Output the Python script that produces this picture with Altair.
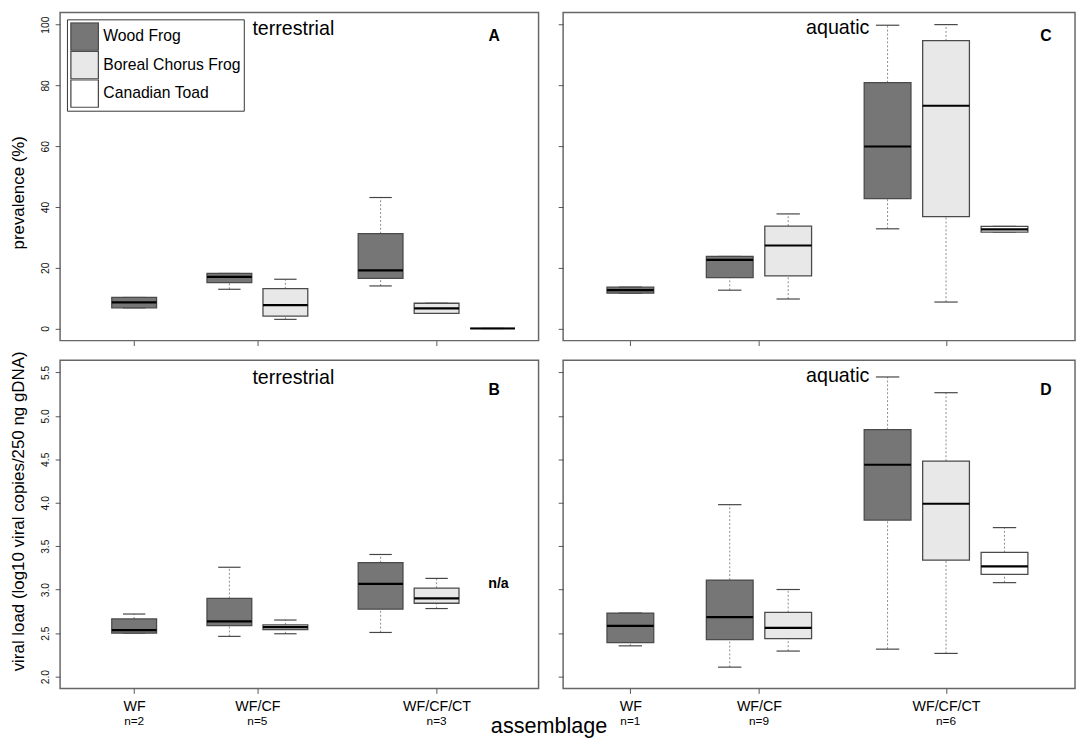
import altair as alt
import pandas as pd

# ---------------- data ----------------
species = ["Wood Frog", "Boreal Chorus Frog", "Canadian Toad"]
assemblages = ["WF", "WF/CF", "WF/CF/CT"]
n_terrestrial = [2, 5, 3]
n_aquatic = [1, 9, 6]

# boxes: assemblage index / species index
boxes6_assemblage = [0, 1, 1, 2, 2, 2]
boxes6_species = [0, 0, 1, 0, 1, 2]
boxes5_assemblage = [0, 1, 1, 2, 2]
boxes5_species = [0, 0, 1, 0, 1]

# A: terrestrial prevalence (%)
a_low = [6.8, 12.9, 3.0, 14.0, 5.0, 0.0]
a_q1 = [6.8, 15.1, 4.1, 16.5, 5.0, 0.0]
a_med = [8.6, 17.0, 7.7, 19.1, 6.6, 0.0]
a_q3 = [10.2, 18.1, 13.1, 31.2, 8.3, 0.0]
a_high = [10.2, 18.1, 16.2, 43.1, 8.3, 0.0]

# C: aquatic prevalence (%)
c_low = [11.6, 12.6, 9.7, 32.8, 8.7, 31.7]
c_q1 = [11.6, 16.7, 17.3, 42.7, 36.8, 31.7]
c_med = [12.6, 22.6, 27.3, 59.9, 73.3, 32.6]
c_q3 = [13.6, 23.7, 33.7, 80.9, 94.7, 33.6]
c_high = [13.6, 23.7, 37.7, 99.8, 100.0, 33.6]

# B: terrestrial viral load (no Canadian Toad data)
b_low = [2.50, 2.463, 2.493, 2.508, 2.783]
b_q1 = [2.50, 2.587, 2.542, 2.776, 2.844]
b_med = [2.535, 2.636, 2.569, 3.066, 2.90]
b_q3 = [2.663, 2.90, 2.595, 3.311, 3.017]
b_high = [2.72, 3.258, 2.651, 3.405, 3.13]

# D: aquatic viral load
d_low = [2.354, 2.109, 2.294, 2.316, 2.267, 3.081]
d_q1 = [2.392, 2.425, 2.437, 3.801, 3.341, 3.175]
d_med = [2.584, 2.685, 2.561, 4.437, 3.989, 3.269]
d_q3 = [2.731, 3.111, 2.738, 4.841, 4.479, 3.428]
d_high = [2.731, 3.978, 3.002, 5.447, 5.266, 3.714]

prev_ticks = [0, 20, 40, 60, 80, 100]
load_ticks = [2.0, 2.5, 3.0, 3.5, 4.0, 4.5, 5.0, 5.5]
na_load = 3.06

# ---------------- layout / style ----------------
fill_colors = ["#767676", "#e8e8e8", "#ffffff"]
FONT = "Liberation Sans"
GROUP_BASE = [1.0, 2.7, 5.4]
BOX_HALF = 0.4
CAP_HALF = 0.2
H = 334
W_LEFT = 487
W_RIGHT = 521
XDOM_LEFT = [-0.323, -0.323 + W_LEFT / 57.0]
XDOM_RIGHT = [-0.15, -0.15 + W_RIGHT / 59.5]
YDOM_PREV = [-4, 104]
YDOM_LOAD = [1.864, 5.639]

group_sizes = [boxes6_assemblage.count(g) for g in range(len(assemblages))]
tick_pos = [GROUP_BASE[g] + (group_sizes[g] - 1) / 2 for g in range(len(assemblages))]
mid1 = (tick_pos[0] + tick_pos[1]) / 2
mid2 = (tick_pos[1] + tick_pos[2]) / 2
label_expr = (f"datum.value < {mid1} ? '{assemblages[0]}' : "
              f"datum.value < {mid2} ? '{assemblages[1]}' : '{assemblages[2]}'")


def box_frame(a_idx, s_idx, low, q1, med, q3, high):
    pos = [GROUP_BASE[a] + s for a, s in zip(a_idx, s_idx)]
    return pd.DataFrame({
        "pos": pos,
        "box_l": [p - BOX_HALF for p in pos],
        "box_r": [p + BOX_HALF for p in pos],
        "cap_l": [p - CAP_HALF for p in pos],
        "cap_r": [p + CAP_HALF for p in pos],
        "species": [species[s] for s in s_idx],
        "low": low, "q1": q1, "med": med, "q3": q3, "high": high,
    })


def panel(df, width, xdom, ydom, yticks, yfmt, ylabels, ytitle, ytitle_y,
          xlabels, n_list, habitat, hab_x, hab_y, letter, let_x, let_y,
          legend, na=False):
    xs = alt.Scale(domain=xdom, nice=False, zero=False)
    ys = alt.Scale(domain=ydom, nice=False, zero=False)
    xkw = dict(values=tick_pos, title=None, labels=xlabels, labelFlush=False,
               labelOverlap=False)
    if xlabels:
        xkw.update(labelExpr=label_expr, labelFontSize=14.5, labelBaseline="alphabetic",
                   labelPadding=17, labelAlign="center", labelColor="black")
    xaxis = alt.Axis(**xkw)
    ykw = dict(values=yticks, format=yfmt, labels=ylabels, labelFlush=False,
               labelOverlap=False)
    if ylabels:
        ykw.update(labelAngle=270, labelAlign="center", labelBaseline="alphabetic",
                   labelPadding=7, labelFontSize=10.5)
    if ytitle:
        ykw.update(title=ytitle, titleAngle=270, titleX=-37.5, titleY=ytitle_y,
                   titleAlign="center", titleBaseline="alphabetic",
                   titleFontSize=17.2, titleFontWeight="normal", titleColor="black")
    else:
        ykw.update(title=None)
    yaxis = alt.Axis(**ykw)

    def X(f):
        return alt.X(f, type="quantitative", scale=xs, axis=xaxis)

    def Y(f):
        return alt.Y(f, type="quantitative", scale=ys, axis=yaxis)

    base = alt.Chart(df)
    whisk_hi = base.mark_rule(color="#8a8a8a", strokeDash=[2, 2], strokeWidth=1).encode(
        x=X("pos"), y=Y("q3"), y2="high:Q")
    whisk_lo = base.mark_rule(color="#8a8a8a", strokeDash=[2, 2], strokeWidth=1).encode(
        x=X("pos"), y=Y("low"), y2="q1:Q")
    cap_hi = base.mark_rule(color="#454545", strokeWidth=1.2).encode(
        x=X("cap_l"), x2="cap_r:Q", y=Y("high"))
    cap_lo = base.mark_rule(color="#454545", strokeWidth=1.2).encode(
        x=X("cap_l"), x2="cap_r:Q", y=Y("low"))
    fill_kw = dict(scale=alt.Scale(domain=species, range=fill_colors))
    if legend:
        fill_kw["legend"] = alt.Legend(
            title=None, orient="none", legendX=7, legendY=7, direction="vertical",
            symbolType="square", symbolSize=784, symbolStrokeColor="#4a4a4a",
            symbolStrokeWidth=1.3, labelFont=FONT, labelFontSize=16,
            labelColor="black", labelOffset=4, rowPadding=0, clipHeight=29,
            padding=3, strokeColor="#333333", fillColor="white", labelLimit=220)
    else:
        fill_kw["legend"] = None
    box = base.mark_rect(stroke="#4a4a4a", strokeWidth=1.3).encode(
        x=X("box_l"), x2="box_r:Q", y=Y("q1"), y2="q3:Q",
        fill=alt.Fill("species:N", **fill_kw))
    median = base.mark_rule(color="black", strokeWidth=2.2).encode(
        x=X("box_l"), x2="box_r:Q", y=Y("med"))

    hab = alt.Chart(pd.DataFrame({"t": [habitat]})).mark_text(
        font=FONT, fontSize=20, align="center", baseline="alphabetic", color="black"
    ).encode(x=alt.value(hab_x), y=alt.value(hab_y), text="t:N")
    let = alt.Chart(pd.DataFrame({"t": [letter]})).mark_text(
        font=FONT, fontSize=16, fontWeight="bold", align="center",
        baseline="alphabetic", color="black"
    ).encode(x=alt.value(let_x), y=alt.value(let_y), text="t:N")

    layers = [whisk_hi, whisk_lo, cap_hi, cap_lo, box, median, hab, let]
    if n_list:
        ndf = pd.DataFrame({"pos": tick_pos, "n": [f"n={n}" for n in n_list]})
        layers.append(alt.Chart(ndf).mark_text(
            font=FONT, fontSize=12, align="center", baseline="alphabetic", color="black"
        ).encode(x=X("pos"), y=alt.value(H + 37), text="n:N"))
    if na:
        nadf = pd.DataFrame({"pos": [GROUP_BASE[2] + 2], "v": [na_load], "t": ["n/a"]})
        layers.append(alt.Chart(nadf).mark_text(
            font=FONT, fontSize=14.5, fontWeight="bold", align="center",
            baseline="middle", dx=6, color="black"
        ).encode(x=X("pos"), y=Y("v"), text="t:N"))
    return alt.layer(*layers).properties(width=width, height=H)


dfA = box_frame(boxes6_assemblage, boxes6_species, a_low, a_q1, a_med, a_q3, a_high)
dfC = box_frame(boxes6_assemblage, boxes6_species, c_low, c_q1, c_med, c_q3, c_high)
dfB = box_frame(boxes5_assemblage, boxes5_species, b_low, b_q1, b_med, b_q3, b_high)
dfD = box_frame(boxes6_assemblage, boxes6_species, d_low, d_q1, d_med, d_q3, d_high)

pA = panel(dfA, W_LEFT, XDOM_LEFT, YDOM_PREV, prev_ticks, "d", True, "prevalence (%)", 183,
           False, None, "terrestrial", 237.4, 23, "A", 441.8, 29.5, True)
pC = panel(dfC, W_RIGHT, XDOM_RIGHT, YDOM_PREV, prev_ticks, "d", False, None, 0,
           False, None, "aquatic", 279.5, 22, "C", 491.5, 29.5, False)
pB = panel(dfB, W_LEFT, XDOM_LEFT, YDOM_LOAD, load_ticks, ".1f", True,
           "viral load (log10 viral copies/250 ng gDNA)", 153.3,
           True, n_terrestrial, "terrestrial", 237.4, 24.3, "B", 441.8, 35, False, na=True)
pD = panel(dfD, W_RIGHT, XDOM_RIGHT, YDOM_LOAD, load_ticks, ".1f", False, None, 0,
           True, n_aquatic, "aquatic", 279.5, 22, "D", 491.5, 35, False)

top = alt.hconcat(pA, pC, spacing=17).resolve_scale(fill="independent")
bottom = alt.hconcat(pB, pD, spacing=17).resolve_scale(fill="independent")

chart = alt.vconcat(top, bottom, spacing=2).resolve_scale(fill="independent").properties(
    padding={"left": 0, "top": -3, "right": 0, "bottom": 0},
    title=alt.TitleParams(
        text="assemblage", orient="bottom", anchor="start", align="center",
        frame="bounds", dx=550, offset=6, baseline="alphabetic",
        font=FONT, fontSize=22, fontWeight="normal", color="black"),
).configure_view(
    stroke="#666666", strokeWidth=1.5
).configure_axis(
    domain=False, grid=False, tickColor="#555555", tickSize=5, tickWidth=1,
    labelFont=FONT, labelColor="#111111", titleFont=FONT
)

chart.save("out.html", embed_options={"renderer": "svg", "actions": False})
